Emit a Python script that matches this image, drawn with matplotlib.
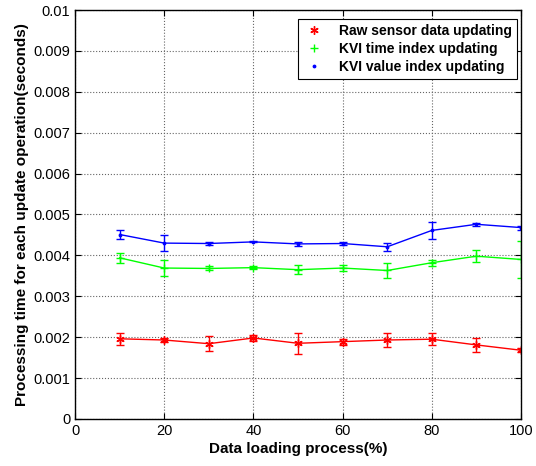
import matplotlib
matplotlib.use("Agg")
import matplotlib.pyplot as plt

plt.rcParams['font.family'] = ['Liberation Sans', 'DejaVu Sans']

x = [10, 20, 30, 40, 50, 60, 70, 80, 90, 100]

raw = [0.00196, 0.00193, 0.00184, 0.00198, 0.00185, 0.00189, 0.00193, 0.00195, 0.00181, 0.00168]
raw_err = [0.00014, 0.00005, 0.00019, 0.00007, 0.00025, 0.00007, 0.00017, 0.00014, 0.00017, 0.00005]

kvi_time = [0.00394, 0.00369, 0.00368, 0.00370, 0.00365, 0.00369, 0.00363, 0.00382, 0.00398, 0.00390]
kvi_time_err = [0.00013, 0.00020, 0.00005, 0.00004, 0.00011, 0.00007, 0.00018, 0.00007, 0.00014, 0.00045]

kvi_value = [0.00451, 0.00430, 0.00429, 0.00433, 0.00428, 0.00429, 0.00421, 0.00461, 0.00476, 0.00468]
kvi_value_err = [0.00011, 0.00019, 0.00003, 0.00001, 0.00004, 0.00004, 0.00010, 0.00020, 0.00004, 0.00005]

fig = plt.figure(figsize=(5.36, 4.66), dpi=100)
ax = fig.add_axes([0.140, 0.101, 0.832, 0.8775])

series = [
    (raw, raw_err, "#ff0000", (6, 2, 0), 6, "Raw sensor data updating"),
    (kvi_time, kvi_time_err, "#00ff00", "+", 6, "KVI time index updating"),
    (kvi_value, kvi_value_err, "#0000ff", ".", 3.5, "KVI value index updating"),
]
for y, err, color, marker, ms, label in series:
    ax.errorbar(x, y, yerr=err, color=color, linewidth=1, capsize=3, elinewidth=1)
    ax.plot(x, y, linestyle="none", marker=marker, color=color, markersize=ms,
            markeredgewidth=1, label=label)

ax.set_xlim(0, 100)
ax.set_ylim(0, 0.01)
ax.set_xticks([0, 20, 40, 60, 80, 100])
ax.set_yticks([i * 0.001 for i in range(11)])
ax.set_yticklabels(["0", "0.001", "0.002", "0.003", "0.004", "0.005", "0.006", "0.007", "0.008", "0.009", "0.01"])
ax.grid(True, linestyle=":", color="#666666", linewidth=0.8)
ax.tick_params(direction="in", top=True, right=True, labelsize=10.5, length=4)
for s in ax.spines.values():
    s.set_linewidth(1)

ax.set_xlabel("Data loading process(%)", fontsize=11, fontweight="bold", labelpad=3)
ax.set_ylabel("Processing time for each update operation(seconds)", fontsize=11, fontweight="bold", labelpad=3)

leg = ax.legend(loc="upper right", bbox_to_anchor=(517 / 536, 1 - 19 / 466),
                bbox_transform=fig.transFigure, borderaxespad=0,
                prop={"weight": "bold", "size": 10},
                fancybox=False, edgecolor="black", framealpha=1, handlelength=1.6,
                handletextpad=1.0, borderpad=0.35, labelspacing=0.3)
leg.get_frame().set_linewidth(0.8)

fig.savefig("out.png", dpi=100)
